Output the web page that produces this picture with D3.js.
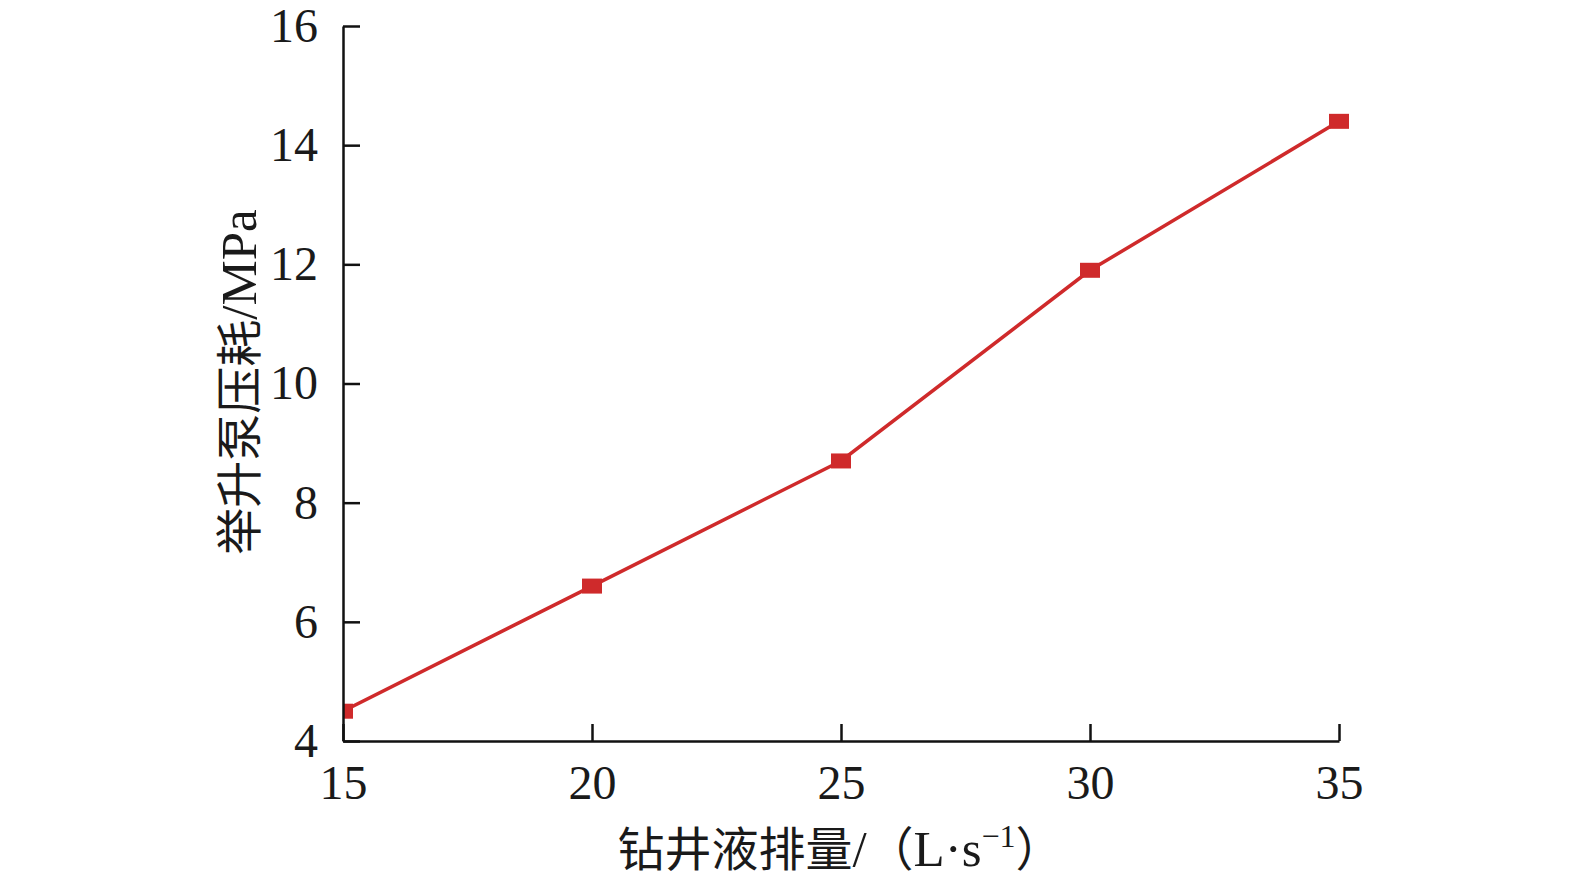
<!DOCTYPE html>
<html><head><meta charset="utf-8">
<script src="https://cdn.jsdelivr.net/npm/d3@7"></script>
<style>body{margin:0;background:#fff}</style>
</head><body>
<svg id="c" width="1575" height="884"></svg>
<script>
const xValues = [15, 20, 25, 30, 35];
const yValues = [4.5, 6.6, 8.7, 11.9, 14.4];
const xTicks = [15, 20, 25, 30, 35];
const yTicks = [4, 6, 8, 10, 12, 14, 16];
const xTitleCJK = "钻井液排量";
const yTitle = "举升泵压耗/MPa";

const svg = d3.select("#c");
const m = {left: 343, top: 26, right: 236, bottom: 143};
const W = 1575 - m.left - m.right, H = 884 - m.top - m.bottom;
const x = d3.scaleLinear().domain([15, 35]).range([0, W]);
const y = d3.scaleLinear().domain([4, 16]).range([H, 0]);
const g = svg.append("g").attr("transform", `translate(${m.left},${m.top})`);
const serif = "'Liberation Serif','Times New Roman',serif";
const cjk = "'Noto Sans CJK SC',sans-serif";

svg.append("defs").append("clipPath").attr("id", "clip")
  .append("rect").attr("x", 0).attr("y", -20).attr("width", W + 20).attr("height", H + 20);

const line = d3.line().x((d, i) => x(xValues[i])).y(d => y(d));
g.append("path").datum(yValues).attr("d", line)
  .attr("fill", "none").attr("stroke", "#cf2a2b").attr("stroke-width", 3.5)
  .attr("clip-path", "url(#clip)");

g.append("g").attr("clip-path", "url(#clip)").selectAll("rect").data(yValues).join("rect")
  .attr("x", (d, i) => x(xValues[i]) - 10).attr("y", d => y(d) - 7.5)
  .attr("width", 20).attr("height", 15).attr("fill", "#cf2a2b");

const xa = g.append("g").attr("transform", `translate(0,${H})`)
  .call(d3.axisBottom(x).tickValues(xTicks).tickSizeInner(-17).tickSizeOuter(0).tickPadding(24).tickFormat(d3.format("d")));
const ya = g.append("g")
  .call(d3.axisLeft(y).tickValues(yTicks).tickSizeInner(-17).tickSizeOuter(0).tickPadding(25).tickFormat(d3.format("d")));
[xa, ya].forEach(a => {
  a.selectAll("path,line").attr("stroke", "#111").attr("stroke-width", 2.5);
  a.selectAll("text").attr("font-family", serif).attr("font-size", 48).attr("fill", "#1a1a1a");
});

// x title
const xt = svg.append("text").attr("x", 840).attr("y", 866).attr("text-anchor", "middle")
  .attr("font-size", 47).attr("fill", "#1a1a1a");
xt.append("tspan").attr("font-family", cjk).text(xTitleCJK);
xt.append("tspan").attr("font-family", serif).attr("font-size", 51).text("/");
xt.append("tspan").attr("font-family", cjk).text("（");
xt.append("tspan").attr("font-family", serif).attr("font-size", 51).text("L·s");
xt.append("tspan").attr("font-family", serif).attr("font-size", 32).attr("dy", -19).text("−1");
xt.append("tspan").attr("font-family", cjk).attr("dy", 19).text("）");

// y title
const yt = svg.append("text").attr("transform", "translate(256,382) rotate(-90)")
  .attr("text-anchor", "middle").attr("font-size", 47).attr("fill", "#1a1a1a");
yt.append("tspan").attr("font-family", cjk).text("举升泵压耗");
yt.append("tspan").attr("font-family", serif).attr("font-size", 51).text("/MPa");
</script>
</body></html>
